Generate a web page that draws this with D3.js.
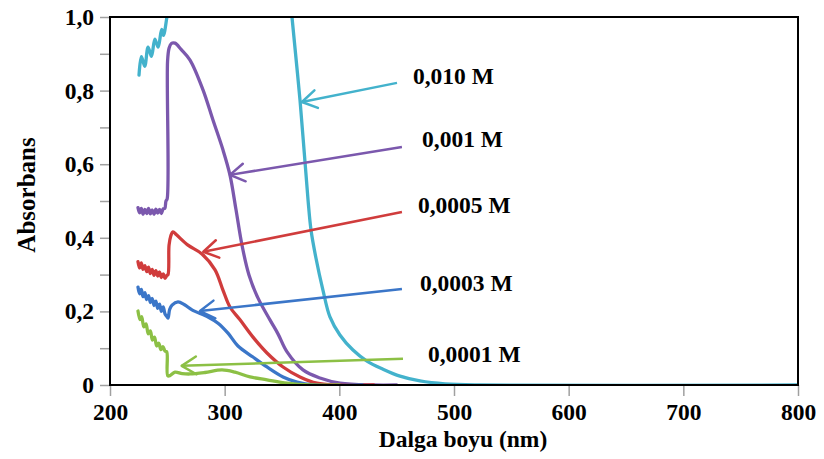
<!DOCTYPE html>
<html>
<head>
<meta charset="utf-8">
<script src="https://cdn.jsdelivr.net/npm/d3@7"></script>
<style>
  body { margin: 0; background: #fff; }
  text { font-family: "Liberation Serif", "Times New Roman", serif; font-weight: bold; }
</style>
</head>
<body>
<script>
//Declare VARIABLES
const w = 824
const h = 459
const plotL = 110, plotR = 798, plotT = 17, plotB = 385
const fontSize = '23.5px'

// wavelength (nm), absorbance
const s0010a = [[225.3,0.842],[227.4,0.892],[230.3,0.866],[233.2,0.918],[236.2,0.893],[239.1,0.940],
  [242,0.918],[245,0.966],[246.6,0.950],[249.4,0.995],[250.5,1.02]]
const s0010b = [[357.8,1.04],[358.7,1.0],[365.7,0.774],[372.7,0.503],[375.3,0.421],[379.6,0.345],
  [385.7,0.258],[391.8,0.185],[400.5,0.136],[411.9,0.095],[424.1,0.065],[438.1,0.043],[452.9,0.024],
  [470.3,0.011],[492.1,0.003],[522.7,0],[800,0]]
const s0001 = [[224.4,0.482],[225.8,0.468],[227.3,0.480],[228.8,0.464],[230.4,0.477],[232,0.466],
  [233.6,0.480],[235.2,0.465],[236.8,0.476],[238.4,0.464],[240,0.478],[241.6,0.467],[243.2,0.477],
  [244.8,0.466],[246.4,0.479],[247.8,0.480],[248.8,0.500],[249.8,0.505],[250.2,0.88],[251.5,0.915],
  [253.5,0.928],[256.7,0.929],[262,0.912],[269.8,0.883],[281.1,0.802],[289.8,0.720],[298.5,0.639],
  [304.6,0.571],[309.9,0.476],[315.1,0.380],[321.2,0.299],[329.1,0.236],[339.5,0.177],[346.5,0.139],
  [354.4,0.090],[368.3,0.041],[383.1,0.019],[400.6,0.005],[429.4,0],[450,0]]
const s00005 = [[224.4,0.335],[225.8,0.318],[227.3,0.332],[228.8,0.314],[230.4,0.324],[232,0.308],
  [233.6,0.320],[235.2,0.303],[236.8,0.314],[238.4,0.298],[240,0.311],[241.6,0.296],[243.2,0.307],
  [244.8,0.292],[246.4,0.302],[248,0.290],[249.6,0.298],[250.6,0.300],[251.5,0.38],[253,0.405],
  [254.9,0.416],[258,0.408],[268,0.380],[280.2,0.356],[291.6,0.313],[298.5,0.258],[304.6,0.212],
  [313.4,0.177],[324.7,0.130],[336.9,0.087],[350.9,0.049],[365.7,0.022],[380.5,0.005],[398,0],[430,0]]
const s00003 = [[224.4,0.266],[225.8,0.248],[227.3,0.260],[228.8,0.240],[230.4,0.251],[232,0.232],
  [233.6,0.243],[235.2,0.224],[236.8,0.235],[238.4,0.216],[240,0.228],[241.6,0.208],[243.2,0.220],
  [244.8,0.200],[246.4,0.212],[248,0.193],[249.6,0.186],[250.6,0.182],[252,0.205],[254.1,0.217],
  [259.3,0.226],[265,0.218],[271.5,0.204],[285.5,0.185],[294.2,0.168],[302.9,0.141],[311.6,0.106],
  [324.7,0.076],[336.9,0.049],[350.9,0.022],[363.1,0.008],[377,0],[420,0]]
const s00001 = [[224.4,0.201],[226.2,0.178],[227.6,0.186],[229.5,0.158],[231.4,0.166],[233.4,0.139],
  [235.2,0.147],[237,0.122],[238.8,0.130],[240.7,0.106],[242.5,0.114],[244.4,0.096],[246.2,0.104],
  [248,0.092],[249.5,0.090],[250.4,0.025],[252.5,0.026],[256.7,0.035],[263,0.031],[269.8,0.030],
  [282.8,0.034],[297.7,0.041],[309,0.035],[322.1,0.022],[336.9,0.014],[354.4,0.005],[374.4,0],[400,0]]

const seriesNames = ['0,010 M', '0,001 M', '0,0005 M', '0,0003 M', '0,0001 M']
const seriesColors = ['#43b2cc', '#7b58ad', '#d03c3c', '#3b76c8', '#8cc045']
const seriesData = [[s0010a, s0010b], [s0001], [s00005], [s00003], [s00001]]
// arrow tail / tip and label anchor, in nm / absorbance
const arrowTails = [[450.3,0.821],[454.6,0.647],[454.6,0.470],[454.6,0.261],[455.5,0.071]]
const arrowTips = [[367.4,0.769],[304.6,0.571],[281.4,0.362],[278.5,0.201],[262.5,0.052]]
const labelAt = [[464.2,0.818],[472.1,0.647],[468.6,0.467],[470.3,0.255],[477.3,0.063]]

const xTicks = [200, 300, 400, 500, 600, 700, 800]
const yTicks = [0, 0.1, 0.2, 0.3, 0.4, 0.5, 0.6, 0.7, 0.8, 0.9, 1.0]

//Declare SVG
const svg = d3.select('body')
            .append('svg')
            .attr('width', w)
            .attr('height', h)

const xScale = d3.scaleLinear().domain([200, 800]).range([plotL, plotR])
const yScale = d3.scaleLinear().domain([0, 1]).range([plotB, plotT])

svg.append('defs').append('clipPath').attr('id', 'plot')
  .append('rect').attr('x', plotL).attr('y', plotT)
  .attr('width', plotR - plotL).attr('height', plotB - plotT)

//Axes
const yAxis = d3.axisLeft(yScale).tickValues(yTicks).tickSize(10).tickPadding(6)
  .tickFormat((d, i) => i % 2 ? '' : (d === 0 ? '0' : d3.format('.1f')(d).replace('.', ',')))
const xAxis = d3.axisBottom(xScale).tickValues(xTicks).tickSize(11).tickPadding(7)
  .tickFormat(d3.format('d'))

svg.append('g').attr('transform', 'translate(' + plotL + ',0)').call(yAxis)
svg.append('g').attr('transform', 'translate(0,' + plotB + ')').call(xAxis)
svg.selectAll('.domain').remove()
svg.selectAll('.tick line').attr('stroke', '#a0a0a0').attr('stroke-width', 1.5)
svg.selectAll('.tick text').attr('fill', '#000').style('font-size', fontSize)
  .style('font-family', '"Liberation Serif", serif')

//Lines
const line = d3.line()
  .x(d => xScale(d[0]))
  .y(d => yScale(d[1]))
  .curve(d3.curveCatmullRom.alpha(0.5))

const plot = svg.append('g').attr('clip-path', 'url(#plot)')
seriesData.forEach((segs, i) => {
  segs.forEach(seg => {
    plot.append('path')
      .attr('d', line(seg))
      .attr('fill', 'none')
      .attr('stroke', seriesColors[i])
      .attr('stroke-width', 3.3)
      .attr('stroke-linejoin', 'round')
      .attr('stroke-linecap', 'round')
  })
})

//Frame
svg.append('rect')
  .attr('x', plotL).attr('y', plotT)
  .attr('width', plotR - plotL).attr('height', plotB - plotT)
  .attr('fill', 'none').attr('stroke', '#000').attr('stroke-width', 2)

//Arrows + labels
seriesNames.forEach((name, i) => {
  const t = arrowTails[i], p = arrowTips[i]
  const x1 = xScale(t[0]), y1 = yScale(t[1]), x2 = xScale(p[0]), y2 = yScale(p[1])
  const ang = Math.atan2(y1 - y2, x1 - x2)
  const len = 17, spread = 0.55
  svg.append('line')
    .attr('x1', x1).attr('y1', y1).attr('x2', x2).attr('y2', y2)
    .attr('stroke', seriesColors[i]).attr('stroke-width', 2.5)
  svg.append('path')
    .attr('d', 'M' + (x2 + len * Math.cos(ang - spread)) + ',' + (y2 + len * Math.sin(ang - spread)) +
      'L' + x2 + ',' + y2 +
      'L' + (x2 + len * Math.cos(ang + spread)) + ',' + (y2 + len * Math.sin(ang + spread)))
    .attr('fill', 'none').attr('stroke', seriesColors[i]).attr('stroke-width', 2.5)
    .attr('stroke-linejoin', 'round').attr('stroke-linecap', 'round')
  svg.append('text')
    .attr('x', xScale(labelAt[i][0]))
    .attr('y', yScale(labelAt[i][1]))
    .style('font-size', fontSize)
    .text(name)
})

//Titles
svg.append('text')
  .attr('x', (plotL + plotR) / 2 + 9)
  .attr('y', 447)
  .attr('text-anchor', 'middle')
  .style('font-size', fontSize)
  .text('Dalga boyu (nm)')

svg.append('text')
  .attr('transform', 'translate(35,195) rotate(-90)')
  .attr('text-anchor', 'middle')
  .style('font-size', '25px')
  .text('Absorbans')
</script>
</body>
</html>
